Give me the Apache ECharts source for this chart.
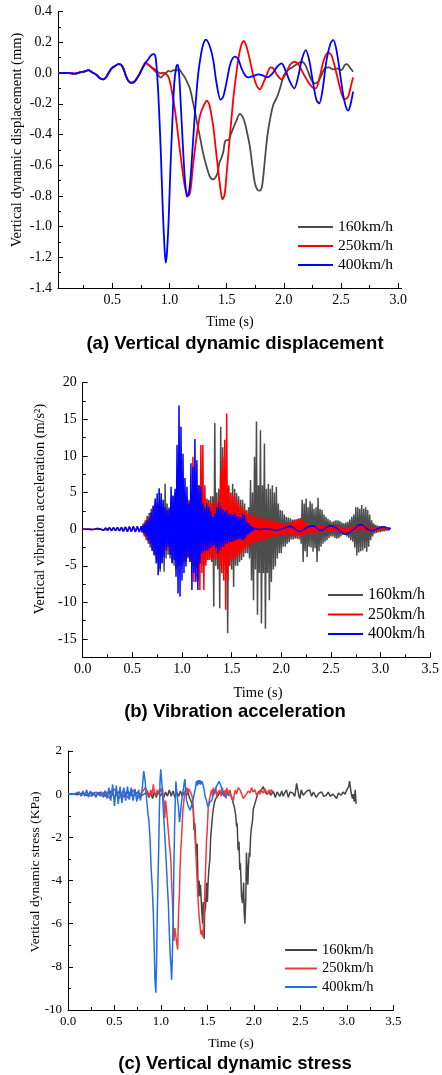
<!DOCTYPE html>
<html><head><meta charset="utf-8">
<script src="https://cdn.jsdelivr.net/npm/echarts@6/dist/echarts.min.js"></script>
<style>html,body{margin:0;padding:0;background:#fff}#c{width:442px;height:1075px}</style>
</head><body><div id="c"></div>
<script>
// ================= (a) Vertical dynamic displacement =================
const dispEarly = [[0.026,0],[0.06,0],[0.10,0.001],[0.14,-0.002],[0.175,-0.004],[0.218,0.005],[0.262,0.011],[0.291,0.02],[0.32,0.007],[0.364,-0.012],[0.393,-0.034],[0.422,-0.041],[0.443,-0.03],[0.466,-0.002],[0.495,0.031],[0.524,0.046],[0.553,0.059],[0.576,0.055],[0.597,0.031],[0.617,-0.013],[0.64,-0.05],[0.664,-0.063],[0.687,-0.06],[0.71,-0.041],[0.734,-0.012],[0.763,0.031],[0.792,0.068]];
const disp160 = [[0.80,0.064],[0.83,0.046],[0.859,0.024],[0.888,0.003],[0.908,-0.019],[0.926,-0.03],[0.946,-0.013],[0.967,-0.002],[0.99,0.014],[1.013,0.01],[1.036,0.02],[1.06,0.016],[1.083,0.025],[1.106,0.003],[1.13,-0.023],[1.153,-0.056],[1.179,-0.1],[1.208,-0.197],[1.237,-0.306],[1.266,-0.414],[1.295,-0.523],[1.325,-0.61],[1.354,-0.675],[1.383,-0.692],[1.406,-0.675],[1.424,-0.642],[1.435,-0.588],[1.453,-0.555],[1.471,-0.512],[1.485,-0.447],[1.5,-0.436],[1.517,-0.436],[1.534,-0.403],[1.557,-0.36],[1.587,-0.306],[1.616,-0.266],[1.639,-0.284],[1.66,-0.327],[1.68,-0.392],[1.703,-0.479],[1.726,-0.61],[1.747,-0.718],[1.77,-0.762],[1.79,-0.766],[1.811,-0.729],[1.834,-0.566],[1.855,-0.414],[1.878,-0.306],[1.907,-0.208],[1.942,-0.153],[1.971,-0.088],[2.0,-0.013],[2.038,0.02],[2.082,0.042],[2.117,0.059],[2.154,0.074],[2.183,0.059],[2.212,0.009],[2.241,-0.045],[2.27,-0.067],[2.3,-0.056],[2.329,-0.013],[2.358,0.031],[2.396,0.037],[2.431,0.024],[2.466,0.031],[2.504,0.02],[2.533,0.053],[2.553,0.059],[2.576,0.037],[2.605,0.009]];
const disp250 = [[0.80,0.064],[0.83,0.046],[0.859,0.031],[0.888,0.016],[0.917,-0.002],[0.946,0.003],[0.975,-0.008],[0.996,-0.034],[1.019,-0.11],[1.048,-0.24],[1.077,-0.414],[1.106,-0.588],[1.135,-0.74],[1.156,-0.788],[1.173,-0.794],[1.188,-0.74],[1.205,-0.61],[1.237,-0.414],[1.266,-0.28],[1.295,-0.219],[1.327,-0.18],[1.35,-0.208],[1.383,-0.349],[1.406,-0.5],[1.426,-0.631],[1.447,-0.762],[1.464,-0.822],[1.482,-0.794],[1.5,-0.653],[1.528,-0.414],[1.557,-0.175],[1.581,-0.023],[1.601,0.085],[1.624,0.172],[1.65,0.209],[1.674,0.172],[1.703,0.085],[1.732,-0.013],[1.761,-0.078],[1.79,-0.106],[1.819,-0.067],[1.849,-0.013],[1.884,0.037],[1.907,0.031],[1.942,-0.013],[1.98,-0.041],[2.018,-0.002],[2.053,0.053],[2.091,0.074],[2.125,0.059],[2.169,-0.002],[2.212,-0.056],[2.25,-0.093],[2.279,-0.1],[2.314,-0.023],[2.349,0.085],[2.387,0.133],[2.416,0.118],[2.46,-0.002],[2.504,-0.132],[2.533,-0.171],[2.562,-0.154],[2.585,-0.088],[2.605,-0.028]];
const disp400 = [[0.81,0.085],[0.83,0.107],[0.845,0.12],[0.859,0.124],[0.873,0.118],[0.882,0.085],[0.894,-0.023],[0.908,-0.219],[0.926,-0.544],[0.943,-0.913],[0.958,-1.152],[0.967,-1.235],[0.978,-1.175],[0.993,-0.957],[1.007,-0.653],[1.025,-0.327],[1.042,-0.067],[1.06,0.042],[1.071,0.055],[1.083,0.009],[1.10,-0.219],[1.121,-0.523],[1.138,-0.718],[1.153,-0.805],[1.167,-0.794],[1.185,-0.675],[1.205,-0.457],[1.229,-0.197],[1.252,-0.002],[1.275,0.118],[1.298,0.194],[1.319,0.218],[1.354,0.172],[1.383,0.085],[1.412,-0.067],[1.447,-0.175],[1.47,-0.154],[1.50,-0.056],[1.534,0.064],[1.572,0.107],[1.601,0.09],[1.63,0.031],[1.66,-0.013],[1.689,-0.028],[1.732,-0.019],[1.776,-0.008],[1.814,-0.015],[1.855,-0.028],[1.901,-0.002],[1.942,0.042],[1.98,0.064],[2.018,0.009],[2.053,-0.056],[2.091,-0.1],[2.125,-0.023],[2.16,0.096],[2.192,0.15],[2.221,0.085],[2.256,-0.067],[2.285,-0.175],[2.309,-0.197],[2.338,-0.11],[2.373,0.085],[2.408,0.194],[2.431,0.216],[2.46,0.15],[2.495,-0.023],[2.527,-0.175],[2.562,-0.245],[2.585,-0.197],[2.605,-0.121]];
const dispXTicks = [0.5,1.0,1.5,2.0,2.5,3.0];
const dispXMinor = [0.25,0.75,1.25,1.75,2.25,2.75];
const dispYTicks = [-1.4,-1.2,-1.0,-0.8,-0.6,-0.4,-0.2,0,0.2,0.4];
const dispYMinor = [-1.3,-1.1,-0.9,-0.7,-0.5,-0.3,-0.1,0.1,0.3];

// ================= (b) Vibration acceleration (one reading every 0.01 s from 0 s; one row = 0.1 s) =================
const ACC_T0 = 0, ACC_DT = 0.01;
const acc160 = [
 0,0,0,0,0,0,0,0.05,0,-0.05,
 0,0.1,0,-0.1,0,0.1,0,-0.1,0,0.1,
 0,-0.1,0,0.15,0,-0.15,0,0.15,0,-0.15,
 0,0.2,0,-0.2,0,0.2,0,-0.2,0,0.2,
 0,-0.2,0,0.25,0,-0.25,0,0.25,0,-0.25,
 0,0.3,0,-0.3,0,0.3,0,-0.3,0,0.3,
 -0.5,0.8,-1.0,1.2,-1.5,1.8,-2.0,2.2,-2.5,2.8,
 -3.0,3.2,-3.5,3.8,-4.0,3.6,-4.5,3.5,-5.8,4.0,
 -4.5,3.5,-5.8,6.2,-4.0,3.5,-3.5,3.0,-4.0,4.0,
 -4.5,4.5,-5.0,5.0,-5.5,5.0,-5.0,5.5,-5.0,5.0,
 -5.0,5.0,-4.5,4.5,-4.5,4.5,-4.0,4.0,-4.5,4.5,
 -4.5,4.0,-5.0,4.5,-5.0,4.5,-5.0,4.0,-4.5,4.0,
 -5.0,4.0,-5.0,4.2,-4.5,4.0,-4.2,4.0,-4.2,4.5,
 -4.5,4.5,-10.6,14.5,-5.0,5.0,-5.5,5.5,-10.8,14.0,
 -6.0,11.2,-5.0,8.0,-6.0,5.5,-14.2,6.0,-5.0,5.0,
 -5.5,6.2,-7.9,5.5,-5.0,4.9,-5.0,4.5,-4.5,4.0,
 -4.2,4.0,-3.8,3.5,-3.3,2.6,-3.3,3.0,-4.0,6.7,
 -7.0,5.0,-9.7,9.9,-5.5,14.7,-11.7,6.0,-6.0,13.5,
 -12.9,6.0,-6.0,11.7,-13.6,5.5,-6.0,6.2,-9.7,5.5,
 -7.2,6.0,-5.5,5.0,-5.1,5.8,-4.0,3.5,-3.3,2.6,
 -3.3,2.5,-2.4,2.0,-2.4,1.7,-2.0,1.6,-1.8,1.5,
 -1.4,1.3,-1.4,1.3,-1.3,1.3,-1.3,1.4,-1.4,1.5,
 -2.0,4.0,-4.5,3.5,-3.0,4.2,-3.8,3.0,-2.4,3.8,
 -2.5,3.5,-3.1,2.8,-2.6,3.0,-4.5,4.3,-3.0,2.8,
 -2.4,2.6,-2.0,2.0,-1.7,1.7,-1.5,1.4,-1.2,1.2,
 -1.0,1.0,-1.0,1.1,-1.2,1.2,-1.3,1.2,-1.2,1.1,
 -1.0,0.9,-0.8,0.8,-0.8,0.9,-1.0,1.0,-1.2,1.3,
 -1.5,1.7,-1.7,2.0,-2.5,3.0,-3.6,3.0,-3.2,2.8,
 -3.0,3.3,-2.9,2.8,-2.6,3.0,-3.1,2.6,-2.4,2.0,
 -1.5,1.2,-1.0,0.8,-0.6,0.6,-0.5,0.5,-0.4,0.4,
 -0.4,0.4,-0.3,0.3,-0.3,0.3,-0.2,0.2,-0.2,0.1,
 0];
const acc250 = [
 0,0,0,0,0,0,0,0.05,0,-0.05,
 0,0.1,0,-0.1,0,0.1,0,-0.1,0,0.1,
 0,-0.15,0,0.15,0,-0.15,0,0.2,0,-0.2,
 0,0.2,0,-0.2,0,0.2,0,-0.2,0,0.25,
 0,-0.25,0,0.3,0,-0.3,0,0.3,0,-0.3,
 0,0.3,0,-0.3,0,0.35,0,-0.35,0,0.35,
 -0.4,0.6,-0.8,1.0,-1.2,1.5,-1.6,1.8,-2.0,2.2,
 -2.4,2.6,-3.0,3.2,-3.4,3.5,-3.8,3.4,-3.3,3.2,
 -3.0,2.8,-2.6,2.5,-2.9,2.4,-2.9,2.2,-2.6,2.0,
 -2.5,2.8,-3.0,3.5,-4.0,4.0,-4.5,4.5,-4.5,4.5,
 -4.5,4.2,-4.0,4.0,-3.8,3.6,-3.6,3.8,-4.2,4.5,
 -5.0,9.9,-7.2,6.0,-6.5,5.5,-7.0,6.0,-8.3,11.5,
 -6.0,11.5,-8.3,6.0,-5.0,4.2,-4.2,3.8,-4.0,3.5,
 -4.2,3.6,-4.0,3.8,-4.2,3.5,-4.0,4.5,-5.0,8.0,
 -6.0,9.9,-7.0,12.2,-11.0,15.8,-7.0,5.8,-5.0,4.9,
 -4.2,4.5,-4.0,4.9,-4.2,4.0,-3.8,3.6,-3.5,3.2,
 -3.3,3.0,-3.0,2.8,-2.6,2.4,-2.4,2.2,-2.4,2.0,
 -2.0,1.9,-2.0,1.8,-1.8,1.7,-1.6,1.6,-1.6,1.5,
 -1.6,1.5,-1.5,1.4,-1.5,1.4,-1.3,1.3,-1.2,1.2,
 -1.2,1.2,-1.1,1.1,-1.0,1.0,-1.0,0.9,-0.9,0.9,
 -0.9,0.8,-0.8,0.8,-0.8,0.7,-0.8,0.8,-0.7,0.8,
 -0.9,1.0,-0.9,1.2,-1.0,1.3,-1.0,1.4,-1.0,1.5,
 -1.0,1.3,-0.9,1.0,-0.8,0.7,-0.6,0.6,-0.6,0.5,
 -0.5,0.5,-0.5,0.5,-0.5,0.5,-0.45,0.5,-0.45,0.45,
 -0.45,0.45,-0.4,0.45,-0.4,0.45,-0.4,0.45,-0.4,0.5,
 -0.3,0.5,-0.3,0.55,-0.3,0.5,-0.4,0.4,-0.4,0.35,
 -0.5,0.3,-0.6,0.2,-0.7,0.2,-0.7,0.2,-0.6,0.25,
 -0.5,0.3,-0.4,0.4,-0.3,0.5,-0.2,0.6,-0.1,0.7,
 -0.1,0.75,-0.1,0.6,-0.2,0.5,-0.3,0.4,-0.3,0.3,
 -0.4,0.2,-0.4,0.2,-0.3,0.2,-0.3,0.2,-0.2,0.2,
 -0.1,0.3,-0.05,0.35,0.0,0.3,0.0,0.25,0.0,0.15,
 0.1];
const acc400 = [
 0,0,0,0,0,0,0,0.05,0,-0.05,
 0,0.1,0,-0.1,0,0.1,0,-0.1,0,0.15,
 0,-0.15,0,0.15,0,-0.2,0,0.2,0,-0.2,
 0,0.2,0,-0.2,0,0.25,0,-0.25,0,0.25,
 0,-0.3,0,0.3,0,-0.35,0,0.35,0,-0.35,
 0,0.4,0,-0.4,0,0.4,0,-0.4,0,0.4,
 -0.3,0.5,-0.6,0.8,-1.0,1.2,-1.5,1.6,-2.0,2.3,
 -2.9,3.2,-3.6,4.2,-4.7,4.9,-6.3,5.6,-5.4,4.9,
 -4.7,4.0,-3.8,3.0,-2.8,2.6,-2.4,2.8,-3.5,5.8,
 -4.7,4.6,-4.2,5.5,-6.5,11.5,-8.8,16.9,-9.2,14.0,
 -7.0,10.3,-6.0,7.0,-5.1,5.8,-3.8,3.5,-4.5,9.0,
 -8.3,8.5,-6.0,12.3,-7.2,9.4,-8.3,6.0,-4.7,5.8,
 -3.3,3.5,-3.0,3.0,-2.9,3.5,-2.9,3.0,-2.6,2.4,
 -2.4,1.7,-2.2,2.2,-2.6,3.0,-3.3,3.5,-2.9,3.0,
 -2.4,2.6,-2.4,2.4,-2.0,2.6,-2.0,2.1,-1.7,2.1,
 -1.7,2.0,-1.7,2.1,-1.5,1.8,-1.4,1.7,-1.3,1.6,
 -1.5,2.1,-1.5,1.9,-1.2,1.0,-0.8,0.8,-0.6,0.5,
 -0.3,0.3,-0.2,0.15,-0.1,0.1,-0.05,0.05,0,0,
 0,0.05,0,0.05,0.02,0.05,0,0.02,0,-0.02,
 0,-0.05,-0.1,-0.12,-0.15,-0.12,-0.1,-0.12,-0.1,-0.05,
 0,0.05,0.1,0.15,0.2,0.25,0.3,0.35,0.4,0.4,
 0.4,0.35,0.2,0.1,0.0,-0.1,-0.2,-0.3,-0.35,-0.35,
 -0.3,-0.2,-0.1,0.0,0.1,0.2,0.25,0.3,0.35,0.4,
 0.45,0.45,0.45,0.4,0.3,0.2,0.1,0.0,-0.1,-0.15,
 -0.2,-0.15,-0.1,0.0,0.1,0.2,0.3,0.4,0.45,0.45,
 0.45,0.45,0.4,0.35,0.3,0.2,0.1,0.0,-0.1,-0.2,
 -0.35,-0.45,-0.55,-0.65,-0.7,-0.7,-0.7,-0.6,-0.5,-0.4,
 -0.3,-0.2,-0.1,0.0,0.1,0.2,0.35,0.5,0.6,0.65,
 0.65,0.6,0.5,0.4,0.3,0.2,0.1,0.0,-0.1,-0.15,
 -0.2,-0.2,-0.2,-0.15,-0.1,-0.05,0.0,0.05,0.1,0.15,
 0.25,0.3,0.3,0.3,0.3,0.25,0.2,0.15,0.1,0.05,
 0.05];
const accXTicks = [0,0.5,1.0,1.5,2.0,2.5,3.0,3.5];
const accXMinor = [0.25,0.75,1.25,1.75,2.25,2.75,3.25];
const accYTicks = [-15,-10,-5,0,5,10,15,20];
const accYMinor = [-17.5,-12.5,-7.5,-2.5,2.5,7.5,12.5,17.5];

// ================= (c) Vertical dynamic stress =================
const stress160 = [[0,0],[0.05,0.02],[0.1,-0.03],[0.15,0.05],[0.2,-0.05],[0.25,0.08],[0.3,-0.08],[0.35,0.1],[0.4,-0.1],[0.45,0.15],[0.5,-0.15],[0.55,0.12],[0.6,-0.12],[0.65,0.1],[0.7,-0.1],[0.75,0.1],[0.8,-0.05],[0.85,0.1],[0.87,-0.15],[0.89,0.05],[0.91,-0.2],[0.93,0.1],[0.95,-0.15],[0.97,0.15],[0.99,-0.1],[1.01,0.05],[1.03,-0.15],[1.05,0.1],[1.07,-0.1],[1.09,0.2],[1.11,-0.1],[1.13,0.15],[1.15,-0.15],[1.17,0.1],[1.19,-0.1],[1.21,0.15],[1.23,-0.1],[1.25,0.1],[1.276,-0.05],[1.29,0.1],[1.31,-0.2],[1.33,-0.4],[1.348,-0.7],[1.355,-1.66],[1.365,-1.35],[1.375,-2.3],[1.383,-2.9],[1.39,-2.3],[1.40,-4.4],[1.405,-4.75],[1.41,-4.0],[1.42,-4.7],[1.425,-4.2],[1.437,-5.2],[1.448,-6.0],[1.455,-5.0],[1.462,-6.6],[1.466,-6.7],[1.47,-5.5],[1.48,-5.2],[1.49,-4.1],[1.50,-5.0],[1.505,-4.3],[1.515,-3.5],[1.527,-3.0],[1.535,-2.0],[1.545,-1.5],[1.555,-1.0],[1.563,-0.7],[1.575,-0.4],[1.59,-0.2],[1.61,-0.1],[1.634,0.1],[1.65,-0.05],[1.67,0.05],[1.706,0.0],[1.73,0.1],[1.76,-0.1],[1.778,-0.42],[1.79,-0.6],[1.796,-0.6],[1.805,-1.0],[1.814,-1.5],[1.82,-1.35],[1.83,-2.6],[1.84,-2.2],[1.848,-3.5],[1.855,-3.2],[1.867,-4.75],[1.878,-5.05],[1.885,-4.5],[1.89,-4.1],[1.895,-5.4],[1.903,-6.0],[1.91,-5.2],[1.914,-4.6],[1.92,-2.7],[1.927,-3.5],[1.935,-4.2],[1.94,-3.5],[1.95,-2.7],[1.957,-2.9],[1.964,-2.0],[1.975,-1.5],[1.986,-1.2],[1.993,-0.7],[2.0,-0.7],[2.02,-0.3],[2.035,-0.27],[2.047,0.1],[2.065,0.04],[2.08,0.2],[2.1,0.35],[2.12,0.1],[2.14,0.0],[2.16,0.15],[2.18,-0.05],[2.21,0.12],[2.23,-0.15],[2.25,0.1],[2.28,-0.1],[2.3,0.15],[2.315,-0.1],[2.33,0.05],[2.35,0.2],[2.37,-0.15],[2.39,0.1],[2.42,0.05],[2.44,-0.1],[2.46,0.5],[2.476,0.45],[2.485,-0.1],[2.495,-0.2],[2.51,0.2],[2.53,-0.05],[2.55,0.0],[2.57,0.15],[2.6,0.2],[2.62,-0.1],[2.64,0.1],[2.67,-0.15],[2.7,0.05],[2.73,0.1],[2.75,-0.1],[2.78,-0.05],[2.8,0.1],[2.82,-0.1],[2.85,0.0],[2.87,-0.1],[2.89,-0.2],[2.91,0.05],[2.94,-0.05],[2.96,0.1],[2.98,0.0],[3.0,0.2],[3.02,0.35],[3.03,0.6],[3.045,0.1],[3.06,-0.2],[3.07,0.0],[3.08,-0.35],[3.09,0.2],[3.1,-0.45]];
const stress250 = [[0,0],[0.05,0],[0.1,0.05],[0.15,-0.05],[0.2,0.1],[0.25,-0.1],[0.3,0.1],[0.35,-0.1],[0.4,0.15],[0.45,-0.2],[0.5,0.25],[0.55,-0.2],[0.6,0.2],[0.65,-0.2],[0.7,0.2],[0.75,-0.2],[0.8,0.1],[0.83,0.3],[0.846,0.35],[0.86,0.1],[0.875,-0.1],[0.89,0.2],[0.905,-0.05],[0.918,0.45],[0.93,0.1],[0.945,-0.1],[0.96,0.2],[0.975,0.05],[0.99,0.25],[1.005,0.1],[1.015,0.3],[1.025,-0.1],[1.035,-0.5],[1.042,-1.1],[1.05,-0.3],[1.06,-0.7],[1.075,-1.5],[1.09,-2.3],[1.10,-2.7],[1.108,-3.2],[1.115,-4.1],[1.122,-4.75],[1.133,-6.0],[1.14,-6.8],[1.15,-6.2],[1.161,-6.6],[1.17,-6.9],[1.18,-7.2],[1.19,-5.4],[1.2,-4.5],[1.205,-3.5],[1.215,-2.5],[1.226,-1.66],[1.235,-0.8],[1.245,-0.4],[1.255,0.0],[1.262,0.2],[1.27,0.1],[1.28,0.3],[1.29,0.05],[1.30,0.25],[1.312,0.2],[1.322,0.05],[1.335,-0.1],[1.345,-0.4],[1.355,-1.2],[1.366,-2.0],[1.375,-2.6],[1.384,-3.5],[1.394,-4.4],[1.40,-5.0],[1.412,-5.7],[1.419,-6.0],[1.43,-6.5],[1.437,-6.3],[1.448,-6.6],[1.455,-6.4],[1.462,-5.7],[1.47,-4.8],[1.48,-3.5],[1.49,-2.2],[1.5,-1.5],[1.509,-0.6],[1.52,-0.3],[1.534,0.0],[1.545,0.2],[1.555,-0.1],[1.563,0.3],[1.575,0.0],[1.59,0.3],[1.6,-0.1],[1.615,0.1],[1.634,0.2],[1.65,-0.1],[1.66,0.3],[1.67,0.35],[1.68,-0.1],[1.69,0.2],[1.70,-0.2],[1.71,0.3],[1.725,0.0],[1.742,0.2],[1.76,-0.2],[1.778,-0.3],[1.79,0.0],[1.80,0.2],[1.814,0.0],[1.83,0.3],[1.85,0.2],[1.87,0.0],[1.885,-0.2],[1.9,-0.25],[1.92,0.0],[1.94,0.15],[1.957,0.05],[1.975,0.3],[1.99,0.1],[2.01,0.2],[2.03,-0.05],[2.05,0.1],[2.065,0.0],[2.08,0.2],[2.1,0.05],[2.12,0.25],[2.136,0.1],[2.15,0.0],[2.165,0.2],[2.18,0.05],[2.19,0.22],[2.2,0.1]];
const stress400 = [[0,0],[0.05,0],[0.08,0.02],[0.10,-0.05],[0.12,0.1],[0.14,-0.1],[0.16,0.15],[0.18,-0.1],[0.20,0.2],[0.22,-0.15],[0.24,0.15],[0.26,-0.1],[0.28,0.1],[0.30,-0.15],[0.32,0.1],[0.34,-0.05],[0.36,0.1],[0.38,-0.15],[0.40,0.15],[0.42,-0.2],[0.44,0.3],[0.46,-0.3],[0.48,0.45],[0.50,-0.55],[0.52,0.4],[0.54,-0.45],[0.56,0.35],[0.58,-0.4],[0.60,0.3],[0.62,-0.3],[0.64,0.35],[0.66,-0.25],[0.68,0.3],[0.70,-0.3],[0.72,0.25],[0.74,-0.35],[0.76,0.2],[0.78,-0.3],[0.80,0.3],[0.815,1.07],[0.83,0.6],[0.845,-0.2],[0.86,-0.9],[0.87,-1.2],[0.882,-2.0],[0.895,-3.5],[0.905,-4.2],[0.918,-5.5],[0.928,-7.2],[0.936,-8.6],[0.945,-9.2],[0.953,-7.8],[0.961,-5.5],[0.968,-4.0],[0.975,-2.7],[0.982,-1.0],[0.99,0.6],[0.998,1.15],[1.006,0.7],[1.015,0.2],[1.025,-0.7],[1.036,-1.5],[1.048,-2.4],[1.061,-3.5],[1.07,-4.3],[1.079,-5.0],[1.09,-6.4],[1.1,-7.5],[1.108,-8.0],[1.115,-8.6],[1.122,-7.6],[1.133,-5.4],[1.14,-3.2],[1.147,-1.5],[1.155,-0.2],[1.161,0.6],[1.168,0.2],[1.176,-0.1],[1.19,-0.7],[1.2,-1.3],[1.208,-1.0],[1.218,-0.5],[1.23,-0.1],[1.24,0.2],[1.25,0.5],[1.258,0.7],[1.266,0.2],[1.276,-0.3],[1.29,-0.5],[1.30,-0.6],[1.312,-0.75],[1.325,-0.6],[1.335,-0.4],[1.348,-0.2],[1.36,0.05],[1.372,0.3],[1.383,0.6],[1.39,0.4],[1.40,0.65],[1.41,0.45],[1.419,0.65],[1.43,0.45],[1.44,0.6],[1.455,0.4],[1.465,0.2],[1.475,-0.1],[1.49,-0.3],[1.50,-0.5],[1.509,-0.6],[1.52,-0.4],[1.53,-0.35],[1.545,-0.3],[1.56,-0.1],[1.575,0.1],[1.59,0.3],[1.60,0.35],[1.615,0.5],[1.625,0.6],[1.634,0.55],[1.645,0.4],[1.655,0.2],[1.67,0.1],[1.685,-0.1],[1.70,-0.05],[1.706,-0.15],[1.72,0.0],[1.74,-0.1]];
const stressXTicks = [0,0.5,1.0,1.5,2.0,2.5,3.0,3.5];
const stressXMinor = [0.25,0.75,1.25,1.75,2.25,2.75,3.25];
const stressYTicks = [-10,-8,-6,-4,-2,0,2];
const stressYMinor = [-9,-7,-5,-3,-1,1];

const speedKeys = ['160','250','400'];
const speedLabels = ['160km/h','250km/h','400km/h'];

// ---------------- build ----------------
const SERIF = '"Liberation Serif","Times New Roman",serif';
const SANS = '"Liberation Sans",Arial,sans-serif';
const accData = arr => arr.map((v, i) => [+(ACC_T0 + i * ACC_DT).toFixed(2), v]);

function axisPair(dim, grid, min, max, majors, minors, fmt, fs) {
  const pos = dim === 'x' ? 'bottom' : 'left';
  const major = {
    type: 'value', gridIndex: grid, min: min, max: max, position: pos,
    axisLine: { show: true, onZero: false, lineStyle: { color: '#000', width: 1 } },
    axisTick: { show: true, inside: true, length: 5, customValues: majors, lineStyle: { color: '#000', width: 1 } },
    axisLabel: { show: true, customValues: majors, formatter: fmt, color: '#000', fontFamily: SERIF, fontSize: fs, margin: dim === 'x' ? 5 : 6 },
    splitLine: { show: false }
  };
  const minor = {
    type: 'value', gridIndex: grid, min: min, max: max, position: pos,
    axisLine: { show: false, onZero: false },
    axisTick: { show: true, inside: true, length: 3, customValues: minors, lineStyle: { color: '#000', width: 1 } },
    axisLabel: { show: false },
    splitLine: { show: false }
  };
  return [major, minor];
}
const f1 = v => v.toFixed(1);
const f0 = v => String(Math.round(v));

const xAxis = [
  ...axisPair('x', 0, 0.026, 3.03, dispXTicks, dispXMinor, f1, 14),
  ...axisPair('x', 1, 0, 3.5, accXTicks, accXMinor, f1, 14),
  ...axisPair('x', 2, 0, 3.5, stressXTicks, stressXMinor, f1, 13)
];
const yAxis = [
  ...axisPair('y', 0, -1.4, 0.4, dispYTicks, dispYMinor, f1, 14),
  ...axisPair('y', 1, -17.5, 20, accYTicks, accYMinor, f0, 14),
  ...axisPair('y', 2, -10, 2, stressYTicks, stressYMinor, f0, 13)
];

function line(name, g, data, color, width, smooth) {
  return { name: name, type: 'line', xAxisIndex: 2 * g, yAxisIndex: 2 * g, data: data,
    symbol: 'none', showSymbol: false, smooth: smooth || false, sampling: null,
    lineStyle: { color: color, width: width }, itemStyle: { color: color }, animation: false };
}
const GREY = '#4a4a4a';
const series = [
  line('a160', 0, dispEarly.concat(disp160), GREY, 1.8, 0.3),
  line('a250', 0, dispEarly.concat(disp250), '#ff0000', 1.8, 0.3),
  line('a400', 0, dispEarly.concat(disp400), '#0000ff', 1.8, 0.3),
  line('b160', 1, accData(acc160), '#4d4d4d', 1.5),
  line('b250', 1, accData(acc250), '#ff0000', 1.5),
  line('b400', 1, accData(acc400), '#0000ff', 1.5),
  line('c160', 2, stress160, '#454545', 1.5),
  line('c250', 2, stress250, '#f03a3a', 1.5),
  line('c400', 2, stress400, '#1f6fe6', 1.5)
];

function legend(prefix, left, top, w, fs, gap) {
  return { show: true, orient: 'vertical', left: left, top: top, padding: 0,
    icon: 'rect', itemWidth: w, itemHeight: 2, itemGap: gap, selectedMode: false,
    data: speedKeys.map(s => prefix + s),
    formatter: n => speedLabels[speedKeys.indexOf(n.slice(1))],
    textStyle: { fontFamily: SERIF, fontSize: fs, color: '#000', lineHeight: 16 } };
}

function txt(x, y, s, font, rot) {
  const el = { type: 'text', x: x, y: y, silent: true,
    style: { text: s, font: font, fill: '#000', textAlign: 'center', textVerticalAlign: 'middle', align: 'center', verticalAlign: 'middle' } };
  if (rot) el.rotation = rot;
  return el;
}

const option = {
  backgroundColor: '#fff',
  animation: false,
  grid: [
    { left: 58, top: 11.7, width: 343.7, height: 276.3 },
    { left: 82.7, top: 382.7, width: 350.6, height: 274.6 },
    { left: 68, top: 751, width: 325.3, height: 259 }
  ],
  xAxis: xAxis,
  yAxis: yAxis,
  legend: [
    legend('a', 298, 219, 35, 15.5, 3),
    legend('b', 328, 587, 35, 16, 3.5),
    legend('c', 285, 942, 32, 14.5, 2.5)
  ],
  series: series,
  graphic: [
    txt(235, 344, '(a) Vertical dynamic displacement', 'bold 18.5px ' + SANS),
    txt(235, 712, '(b) Vibration acceleration', 'bold 18.5px ' + SANS),
    txt(235, 1064, '(c) Vertical dynamic stress', 'bold 18.5px ' + SANS),
    txt(230, 322, 'Time (s)', '14px ' + SERIF),
    txt(258, 693, 'Time (s)', '14.5px ' + SERIF),
    txt(231, 1043, 'Time (s)', '13.5px ' + SERIF),
    txt(17, 140, 'Vertical dynamic displacement (mm)', '14.5px ' + SERIF, Math.PI / 2),
    txt(40, 509, 'Vertical vibration acceleration (m/s\u00B2)', '14.3px ' + SERIF, Math.PI / 2),
    txt(35, 872, 'Vertical dynamic stress (KPa)', '13.5px ' + SERIF, Math.PI / 2)
  ]
};
const chart = echarts.init(document.getElementById('c'), null, { renderer: 'canvas', width: 442, height: 1075 });
chart.setOption(option);
</script>
</body></html>
